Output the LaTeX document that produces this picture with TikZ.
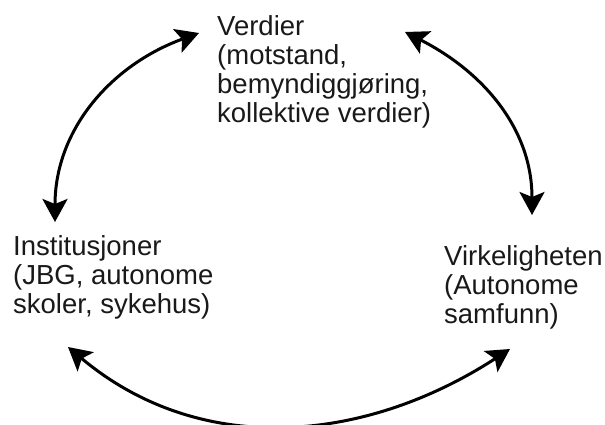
\documentclass[tikz,border=0pt]{standalone}
\usepackage{fontspec}
\setmainfont{Liberation Sans}
\usetikzlibrary{arrows.meta}
\begin{document}
\begin{tikzpicture}[x=1pt,y=1pt,
  lbl/.style={anchor=north west, inner sep=0pt, align=left,
    font=\fontsize{27.5}{29.2}\selectfont, text=black!90},
  link/.style={line width=3pt,
    {Stealth[length=23pt,width=25pt,inset=5pt]}-{Stealth[length=23pt,width=25pt,inset=5pt]}}]
\useasboundingbox (0,0) rectangle (605,-425);
\fill[white] (0,0) rectangle (605,-425);
\node[lbl] (verdier) at (217,-15) {Verdier\\(motstand,\\bemyndiggjøring,\\kollektive verdier)};
\node[lbl] (inst) at (13,-235) {Institusjoner\\(JBG, autonome\\skoler, sykehus)};
\node[lbl] (virk) at (444,-245) {Virkeligheten\\(Autonome\\samfunn)};
\coordinate (vL) at (199,-33);
\coordinate (vR) at (405,-32);
\coordinate (iT) at (55,-222);
\coordinate (iB) at (68,-347);
\coordinate (kT) at (532,-215);
\coordinate (kB) at (510,-349);
\draw[link] (iT) to[out=90,in=200] (vL);
\draw[link] (vR) to[out=-27,in=90] (kT);
\draw[link] (iB) to[out=-40,in=213] (kB);
\end{tikzpicture}
\end{document}
